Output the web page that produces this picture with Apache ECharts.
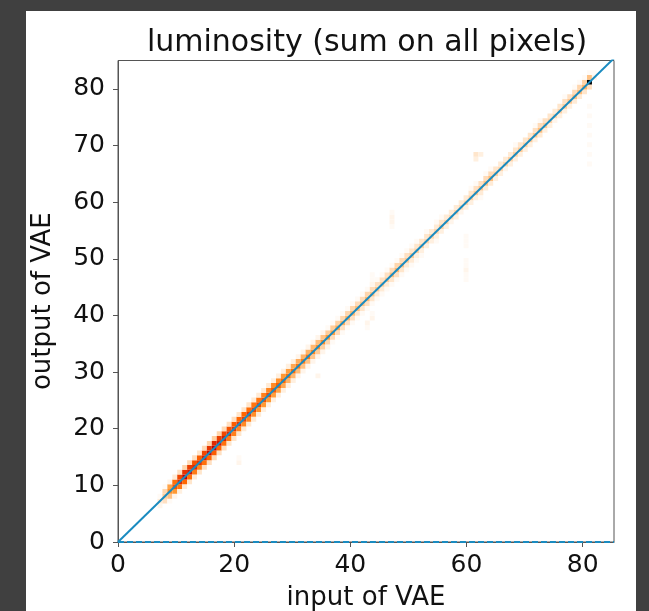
<!DOCTYPE html>
<html>
<head>
<meta charset="utf-8">
<script src="https://cdn.jsdelivr.net/npm/echarts@6/dist/echarts.min.js"></script>
<style>html,body{margin:0;padding:0;background:#404040;}#c{width:649px;height:611px;}</style>
</head>
<body>
<div id="c"></div>
<script>
// ---- data (2D histogram counts) ----
var binW = 0.85;                 // histogram bin width (data units)
var xTicks = [0, 20, 40, 60, 80];
var yTicks = [0, 10, 20, 30, 40, 50, 60, 70, 80];
var diagStart = 8;               // first x-bin index of the band
var bandOffsets = [-2, -1, 0, 1, 2]; // y-bin offsets relative to the diagonal bin
var bandCounts = [
  [0,2,4,1,0],[0,6,10,8,1],[1,12,22,18,2],[2,20,34,28,4],
  [3,26,42,36,6],[4,30,50,40,8],[5,28,46,38,7],[4,26,42,34,6],[5,24,40,32,5],
  [6,28,44,36,7],[6,30,48,40,8],[7,32,50,42,9],[6,30,46,38,8],[6,28,44,36,7],
  [5,26,42,34,6],[5,25,40,32,6],[5,24,40,30,5],[4,23,38,30,5],[4,24,40,29,5],
  [4,22,37,27,4],[4,21,36,27,4],[3,20,35,25,4],[3,20,36,24,4],[3,19,33,23,3],
  [3,18,32,22,3],[3,17,30,20,3],
  [3,15,28,19,3],[3,14,29,17,3],[2,13,27,16,2],[2,12,26,15,2],[2,12,27,15,2],
  [2,11,24,14,2],[2,10,22,13,2],[2,9,23,12,2],
  [2,8,20,10,1],[1,7,19,10,1],[1,7,17,9,1],[1,6,16,8,1],[1,6,15,8,1],
  [1,6,14,8,1],[1,5,13,7,1],[1,5,12,7,1],[1,6,14,8,1],[1,5,12,7,1],
  [1,4,11,6,1],[1,4,10,6,1],[1,4,10,6,1],[1,5,13,7,1],[1,6,14,8,1],
  [1,5,12,7,1],[1,4,10,6,1],[1,4,10,5,1],
  [1,3,9,5,1],[1,3,9,5,0],[0,3,8,5,1],[0,3,8,4,0],[1,3,8,4,1],
  [0,3,9,5,1],[0,3,8,4,0],[0,2,7,4,0],[0,3,8,4,0],[0,2,7,4,0],
  [0,3,8,4,0],[0,3,9,5,1],[0,3,10,6,1],[1,4,11,6,0],[0,4,12,7,1],
  [0,4,13,7,1],[0,3,9,5,0],[0,3,8,4,0],[0,2,8,4,0],[0,3,9,4,0],
  [0,3,9,5,1],[0,3,10,5,0],[0,3,9,5,0],[0,3,10,5,0],[0,3,11,6,1],
  [0,4,13,7,1],[0,3,10,6,0],[0,3,9,5,0],[0,2,8,4,0],[0,3,9,5,0],
  [0,3,10,6,1],[0,3,11,6,0],[0,4,12,7,1],[0,4,13,8,1],[0,5,15,9,1],
  [0,6,100,12,1],[0,0,2,1,0]
];
// isolated off-diagonal cells: [x-bin, y-bin, count]
var outliers = [
  [24,16,2],[24,17,1],
  [40,34,2],
  [55,65,1],[55,66,2],[55,67,2],[55,68,1],
  [50,44,1],[50,45,2],[51,46,2],[51,47,1],
  [51,53,2],[51,54,1],[51,55,1],
  [70,54,1],[70,55,1],[70,56,2],[70,57,1],[70,58,1],
  [70,61,1],[70,62,1],[70,63,1],
  [72,79,3],[72,80,5],[73,80,3],
  [95,78,1],[95,80,1],[95,82,1],[95,84,1],[95,86,1],[95,88,1],[95,90,1]
];
var xMax = 85.4, yMax = 85;
var diagLine = [[0, 0], [xMax, xMax]];
var zeroLine = [[0, 0], [xMax, 0]];

// ---- build cells ----
var cells = [];
bandCounts.forEach(function (row, k) {
  var ix = diagStart + k;
  row.forEach(function (c, j) {
    if (c > 0) cells.push([ix * binW, (ix + bandOffsets[j]) * binW, c]);
  });
});
outliers.forEach(function (o) { cells.push([o[0] * binW, o[1] * binW, o[2]]); });

var font = 'DejaVu Sans';
var chart = echarts.init(document.getElementById('c'));
chart.setOption({
  backgroundColor: '#404040',
  animation: false,
  graphic: [{ type: 'rect', z: -10, shape: { x: 26, y: 11, width: 610, height: 600 }, style: { fill: '#ffffff' } }],
  title: {
    text: 'luminosity (sum on all pixels)', left: 362, top: 23, textAlign: 'center',
    textStyle: { fontFamily: font, fontSize: 30, fontWeight: 'normal', color: '#111' }
  },
  grid: { left: 118, right: 35, top: 60.5, bottom: 69, outerBoundsMode: 'none', containLabel: false,
          show: true, borderColor: '#555', borderWidth: 1, backgroundColor: '#fff' },
  visualMap: {
    show: false, seriesIndex: 0, dimension: 2, min: 0, max: 100,
    inRange: { color: ['#ffffff','#ffcc99','#ff9933','#ff6600','#e63300','#bf0000','#990000','#730000','#4d0000','#260000','#000000'] }
  },
  xAxis: {
    type: 'value', min: 0, max: xMax,
    name: 'input of VAE', nameLocation: 'middle', nameGap: 43,
    nameTextStyle: { fontFamily: font, fontSize: 26, color: '#111' },
    axisLine: { show: true, lineStyle: { color: '#555', width: 1 } },
    axisTick: { show: true, length: 5, customValues: xTicks, lineStyle: { color: '#555' } },
    axisLabel: { customValues: xTicks, fontFamily: font, fontSize: 25, color: '#111', margin: 11 },
    splitLine: { show: false }
  },
  yAxis: {
    type: 'value', min: 0, max: yMax,
    name: 'output of VAE', nameLocation: 'middle', nameGap: 62,
    nameTextStyle: { fontFamily: font, fontSize: 26, color: '#111' },
    axisLine: { show: true, lineStyle: { color: '#555', width: 1 } },
    axisTick: { show: true, length: 5, customValues: yTicks, lineStyle: { color: '#555' } },
    axisLabel: { customValues: yTicks, fontFamily: font, fontSize: 25, color: '#111', margin: 13 },
    splitLine: { show: false }
  },
  series: [
    {
      type: 'custom', data: cells, clip: true, z: 2,
      renderItem: function (params, api) {
        var x0 = api.value(0), y0 = api.value(1);
        var p0 = api.coord([x0, y0]);
        var p1 = api.coord([x0 + binW, y0 + binW]);
        return {
          type: 'rect',
          shape: { x: p0[0], y: p1[1], width: p1[0] - p0[0], height: p0[1] - p1[1] },
          style: { fill: api.visual('color') }
        };
      }
    },
    {
      type: 'line', data: diagLine, symbol: 'none', clip: true, z: 3,
      lineStyle: { color: '#1a8bc0', width: 2 }
    },
    {
      type: 'line', data: zeroLine, symbol: 'none', clip: false, z: 4,
      lineStyle: { color: '#1a8bc0', width: 2, type: [6, 3] }
    }
  ]
});
</script>
</body>
</html>
